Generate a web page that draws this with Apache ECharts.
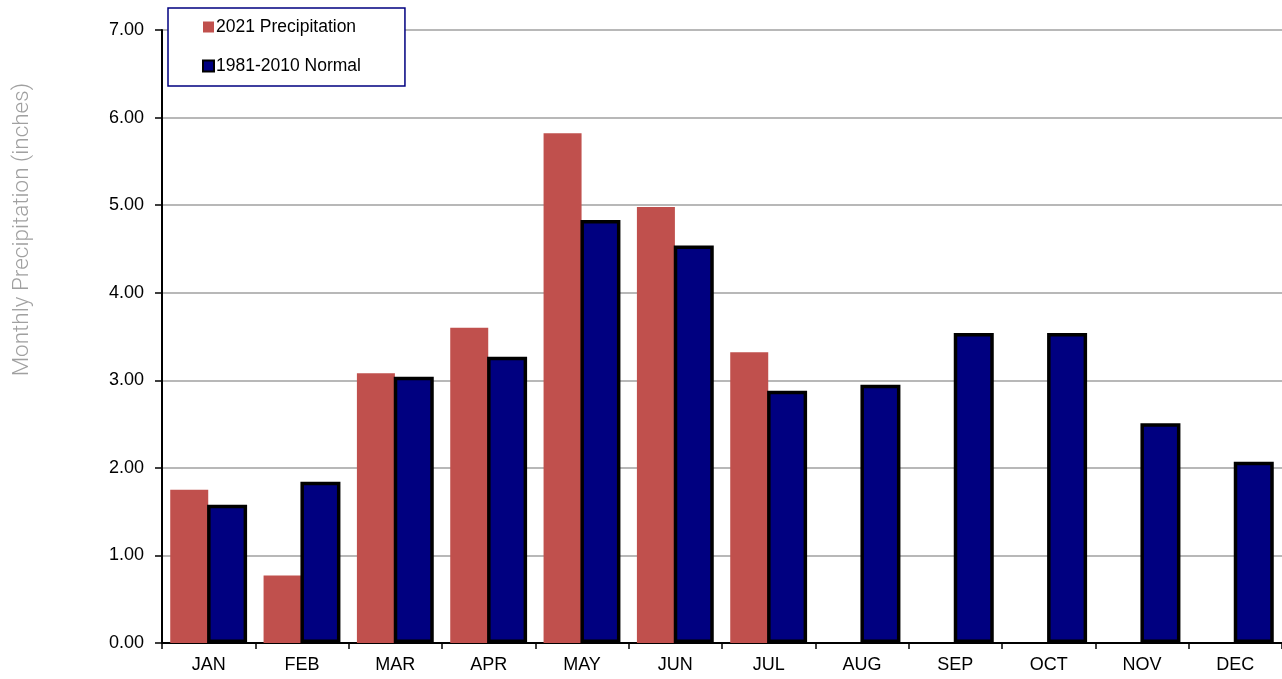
<!DOCTYPE html>
<html lang="en">
<head>
	<title>precipitation</title>
	<meta charset="UTF-8">
<style type="text/css">
    html,body{
   		height: 100%;
   		margin: 0;
   		background-color: #FFFFFF;
   	}
</style>
</head>
<body>
	<div id="chart" style="width: 1282px;height:679px;"></div>
	<script src="https://cdn.jsdelivr.net/npm/echarts@6/dist/echarts.min.js"></script>
	<script>
		var months = ['JAN','FEB','MAR','APR','MAY','JUN','JUL','AUG','SEP','OCT','NOV','DEC'];
		var precip2021 = [1.75, 0.77, 3.08, 3.60, 5.82, 4.98, 3.32, null, null, null, null, null];
		var normal8110 = [1.58, 1.84, 3.04, 3.27, 4.83, 4.54, 2.88, 2.95, 3.54, 3.54, 2.51, 2.07];
		var yTicks = [0, 1, 2, 3, 4, 5, 6, 7];

		var chart = echarts.init(document.getElementById('chart'));

		var option = {
		    animation: false,
		    textStyle: {fontFamily: 'Liberation Sans'},
		    grid: {left: 162, right: 0, top: 30, bottom: 36, containLabel: false},
		    legend: {
		        orient: 'vertical',
		        left: 168,
		        top: 8,
		        padding: [10, 44, 11, 34],
		        itemGap: 21,
		        itemWidth: 11,
		        itemHeight: 11,
		        backgroundColor: '#FFFFFF',
		        borderColor: '#000080',
		        borderWidth: 1.5,
		        borderRadius: 0,
		        textStyle: {fontSize: 17.5, color: '#000000', padding: [0, 0, 0, -3]},
		        data: [
		            {name: '2021 Precipitation', icon: 'rect'},
		            {name: '1981-2010 Normal', icon: 'rect', itemStyle: {borderColor: '#000000', borderWidth: 2}}
		        ]
		    },
		    xAxis: {
		        type: 'category',
		        data: months,
		        axisLine: {lineStyle: {color: '#000000', width: 2}},
		        axisTick: {show: true, length: 6, lineStyle: {color: '#000000', width: 1.5}},
		        axisLabel: {color: '#000000', fontSize: 18, margin: 13}
		    },
		    yAxis: {
		        type: 'value',
		        min: yTicks[0],
		        max: yTicks[yTicks.length - 1],
		        interval: 1,
		        axisLine: {show: true, lineStyle: {color: '#000000', width: 2}},
		        axisTick: {show: true, length: 7, lineStyle: {color: '#000000', width: 1.5}},
		        axisLabel: {
		            color: '#000000',
		            fontSize: 18,
		            margin: 18,
		            formatter: function (v) { return v.toFixed(2); }
		        },
		        splitLine: {lineStyle: {color: '#A0A0A0', width: 1.5}}
		    },
		    graphic: [{
		        type: 'text',
		        left: 11,
		        top: 83,
		        rotation: Math.PI / 2,
		        style: {
		            text: 'Monthly Precipitation (inches)',
		            fill: '#A0A0A0',
		            fontFamily: 'Roboto',
		            fontWeight: 300,
		            fontSize: 22.5
		        }
		    }],
		    series: [
		        {
		            name: '2021 Precipitation',
		            type: 'bar',
		            data: precip2021,
		            barWidth: 38,
		            barGap: '-3%',
		            itemStyle: {color: '#C0504D'}
		        },
		        {
		            name: '1981-2010 Normal',
		            type: 'bar',
		            data: normal8110,
		            barWidth: 40,
		            itemStyle: {color: '#000080', borderColor: '#000000', borderWidth: 3.5}
		        }
		    ]
		};

		chart.setOption(option);
	</script>
</body>
</html>
